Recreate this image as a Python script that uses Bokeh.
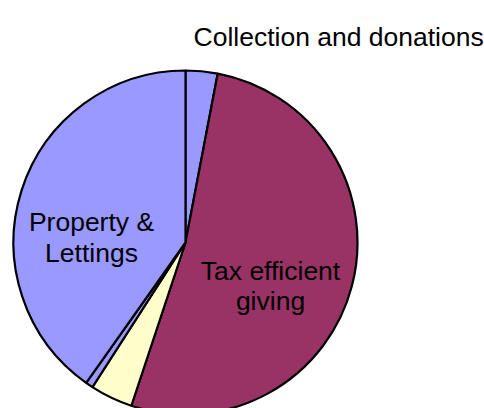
import math
from bokeh.plotting import figure
from bokeh.models import Range1d, ColumnDataSource
from bokeh.core.properties import value
from bokeh.embed import file_html
from bokeh.resources import INLINE

# Data (percent shares, clockwise from 12 o'clock)
categories = ["Collection and donations", "Tax efficient giving", "Other income", "Interest", "Property & Lettings"]
shares = [3.0, 52.1, 4.0, 0.7, 40.2]
colors = ["#9999FF", "#993366", "#FFFFCC", "#9999FF", "#9999FF"]

W, H = 484, 408
p = figure(width=W, height=H, output_backend="svg", toolbar_location=None,
           x_range=Range1d(0, W), y_range=Range1d(0, H), min_border=0)
p.axis.visible = False
p.grid.visible = False
p.outline_line_color = None

total = sum(shares)
starts, ends = [], []
cum = 0.0
for s in shares:
    a0 = math.pi / 2 - (cum + s) / total * 2 * math.pi
    a1 = math.pi / 2 - cum / total * 2 * math.pi
    starts.append(a0)
    ends.append(a1)
    cum += s

src = ColumnDataSource(dict(cat=categories, share=shares, color=colors, start=starts, end=ends))
cx, cy, r = 185, 166, 172
p.wedge(x=cx, y=cy, radius=r, start_angle="start", end_angle="end", source=src,
        fill_color="color", line_color="black", line_width=2.2)

font = value("Liberation Sans")
fs = "26.5px"
p.text(x=[193], y=[372], text=["Collection and donations"], text_font=font,
       text_font_size=fs, text_align="left", text_baseline="alphabetic", text_color="black")
p.text(x=[91, 91], y=[187, 156], text=["Property &", "Lettings"], text_font=font,
       text_font_size=fs, text_align="center", text_baseline="alphabetic", text_color="black")
p.text(x=[270, 270], y=[138, 108], text=["Tax efficient", "giving"], text_font=font,
       text_font_size=fs, text_align="center", text_baseline="alphabetic", text_color="black")

open("out.html", "w").write(file_html(p, INLINE))
